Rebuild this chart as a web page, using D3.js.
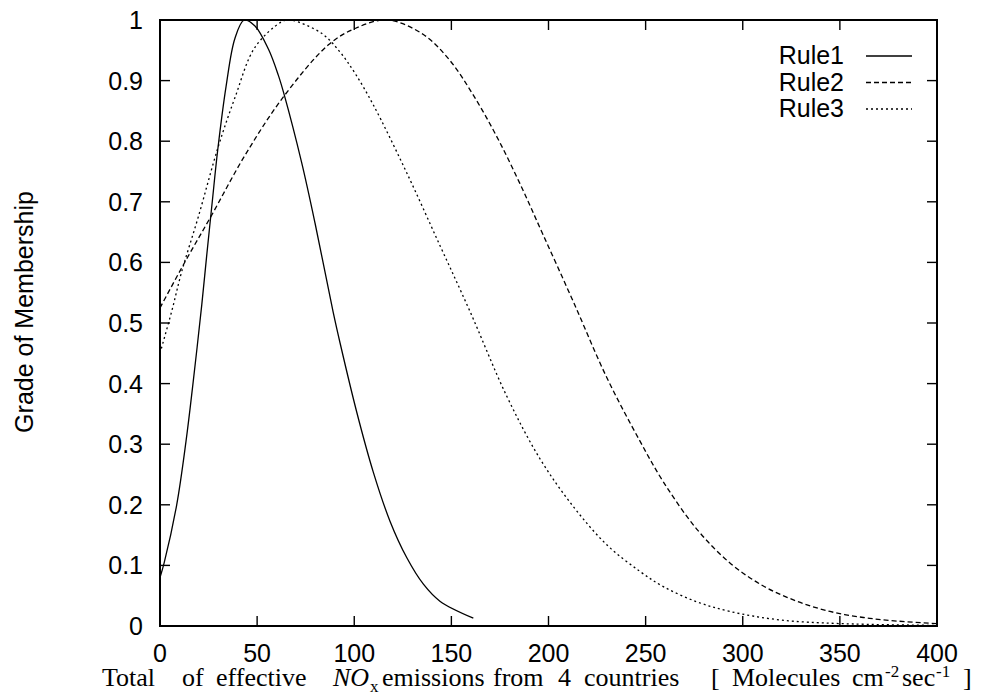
<!DOCTYPE html>
<html>
<head>
<meta charset="utf-8">
<script src="https://cdn.jsdelivr.net/npm/d3@7"></script>
<style>
    body { margin: 0; background: #fff; }
    svg { display: block; }
    .tick-label { font-family: "Liberation Sans", Arial, Helvetica, sans-serif; font-size: 25px; fill: #000; }
    .x-title { font-family: "Liberation Serif", "Times New Roman", serif; font-size: 26px; fill: #000; }
</style>
</head>
<body>
<script>
// values
var xTicks = [0, 50, 100, 150, 200, 250, 300, 350, 400];
var yTicks = [0, 0.1, 0.2, 0.3, 0.4, 0.5, 0.6, 0.7, 0.8, 0.9, 1];
var yTickLabels = ['0', '0.1', '0.2', '0.3', '0.4', '0.5', '0.6', '0.7', '0.8', '0.9', '1'];

var seriesNames = ['Rule1', 'Rule2', 'Rule3'];

var rule1X = [0, 2.2, 8.6, 13.4, 16.8, 21.5, 24, 26.9, 29.7, 34, 38.6, 43.4, 48.9, 55.8, 60.9, 64,
    72.9, 79.8, 89.2, 92.7, 101.2, 109.8, 118.4, 127, 135.6, 144.1, 161.3];
var rule1Y = [0.08, 0.105, 0.2, 0.305, 0.395, 0.53, 0.61, 0.7, 0.785, 0.89, 0.97, 1, 0.99, 0.952, 0.909, 0.876,
    0.765, 0.665, 0.517, 0.467, 0.354, 0.254, 0.173, 0.113, 0.069, 0.041, 0.013];

var rule2X = [0, 12.9, 26.6, 43.8, 63.5, 86.7, 100.4, 117, 135.6, 149.3, 161.3, 173.3, 185.3, 197.3,
    212.8, 230, 247.1, 259.1, 276.3, 293.4, 310.6, 327.8, 344.9, 362.1, 380, 400];
var rule2Y = [0.525, 0.601, 0.678, 0.777, 0.873, 0.959, 0.986, 1, 0.976, 0.933, 0.876, 0.808, 0.73, 0.645,
    0.535, 0.41, 0.305, 0.238, 0.16, 0.104, 0.066, 0.041, 0.024, 0.014, 0.008, 0.004];

var rule3X = [0, 6, 11.2, 19.7, 29.9, 38.6, 48.9, 62.6, 67, 83.2, 92.7, 100.4, 109.8, 127, 144.1, 159.6,
    178.4, 195.6, 212.8, 230, 247.1, 259.1, 276.3, 293.4, 319.2, 350, 400];
var rule3Y = [0.45, 0.519, 0.585, 0.675, 0.79, 0.872, 0.955, 0.997, 1, 0.978, 0.947, 0.912, 0.86, 0.748,
    0.628, 0.519, 0.38, 0.276, 0.197, 0.134, 0.09, 0.065, 0.04, 0.024, 0.01, 0.004, 0.001];


var width = 989,
    height = 697,
    margin = { left: 160, right: 52, top: 20, bottom: 71 };

var svg = d3.select('body')
    .append('svg')
    .attr('width', width)
    .attr('height', height);

var x = d3.scaleLinear()
    .domain([0, 400])
    .range([margin.left, width - margin.right]);

var y = d3.scaleLinear()
    .domain([0, 1])
    .range([height - margin.bottom, margin.top]);

var x0 = x.range()[0], x1 = x.range()[1],
    y0 = y.range()[0], y1 = y.range()[1],
    tickLen = 10;

svg.append('clipPath')
    .attr('id', 'plot-clip')
    .append('rect')
    .attr('x', x0)
    .attr('y', y1)
    .attr('width', x1 - x0)
    .attr('height', y0 - y1);


// mirrored inward ticks, gnuplot style
var ticks = svg.append('g')
    .attr('stroke', '#000')
    .attr('stroke-width', 1.4);

xTicks.forEach(function(v) {
    ticks.append('line')
        .attr('x1', x(v)).attr('x2', x(v))
        .attr('y1', y0).attr('y2', y0 - tickLen);
    ticks.append('line')
        .attr('x1', x(v)).attr('x2', x(v))
        .attr('y1', y1).attr('y2', y1 + tickLen);
});

yTicks.forEach(function(v) {
    ticks.append('line')
        .attr('x1', x0).attr('x2', x0 + tickLen)
        .attr('y1', y(v)).attr('y2', y(v));
    ticks.append('line')
        .attr('x1', x1).attr('x2', x1 - tickLen)
        .attr('y1', y(v)).attr('y2', y(v));
});


// tick labels
svg.append('g').selectAll('text')
    .data(xTicks)
    .enter()
    .append('text')
    .attr('class', 'tick-label')
    .attr('x', function(d) { return x(d); })
    .attr('y', y0 + 36)
    .attr('text-anchor', 'middle')
    .text(function(d) { return d; });

svg.append('g').selectAll('text')
    .data(yTicks)
    .enter()
    .append('text')
    .attr('class', 'tick-label')
    .attr('x', x0 - 17)
    .attr('y', function(d) { return y(d) + 9; })
    .attr('text-anchor', 'end')
    .text(function(d, i) { return yTickLabels[i]; });


// curves
var series = [
    { name: seriesNames[0], xs: rule1X, ys: rule1Y, dash: null },
    { name: seriesNames[1], xs: rule2X, ys: rule2Y, dash: '5,3' },
    { name: seriesNames[2], xs: rule3X, ys: rule3Y, dash: '2,3' }
];

var line = d3.line()
    .x(function(d) { return x(d[0]); })
    .y(function(d) { return y(d[1]); })
    .curve(d3.curveCatmullRom.alpha(0.5));

svg.append('g')
    .attr('clip-path', 'url(#plot-clip)')
    .selectAll('path')
    .data(series)
    .enter()
    .append('path')
    .attr('fill', 'none')
    .attr('stroke', '#000')
    .attr('stroke-width', 1.3)
    .attr('stroke-dasharray', function(d) { return d.dash; })
    .attr('d', function(d) { return line(d3.zip(d.xs, d.ys)); });


// frame
svg.append('rect')
    .attr('x', x0)
    .attr('y', y1)
    .attr('width', x1 - x0)
    .attr('height', y0 - y1)
    .attr('fill', 'none')
    .attr('stroke', '#000')
    .attr('stroke-width', 2);


// legend
var legend = svg.append('g').selectAll('g')
    .data(series)
    .enter()
    .append('g')
    .attr('transform', function(d, i) { return 'translate(0,' + (64 + i * 26.5) + ')'; });

legend.append('text')
    .attr('class', 'tick-label')
    .attr('x', 844)
    .attr('text-anchor', 'end')
    .text(function(d) { return d.name; });

legend.append('line')
    .attr('x1', 866).attr('x2', 912)
    .attr('y1', -8).attr('y2', -8)
    .attr('stroke', '#000')
    .attr('stroke-width', 1.3)
    .attr('stroke-dasharray', function(d) { return d.dash; });


// axis titles
svg.append('text')
    .attr('class', 'tick-label')
    .attr('transform', 'translate(33,312) rotate(-90)')
    .attr('text-anchor', 'middle')
    .text('Grade of Membership');

// x title is set word by word, like the reference's loose spacing
var pieces = [
    { t: 'Total', x: 102 },
    { t: 'of', x: 182 },
    { t: 'effective', x: 216 },
    { t: 'NO', x: 333, italic: true },
    { t: 'x', x: 370, sub: true },
    { t: 'emissions', x: 382 },
    { t: 'from', x: 493 },
    { t: '4', x: 558 },
    { t: 'countries', x: 584 },
    { t: '[', x: 711 },
    { t: 'Molecules', x: 732 },
    { t: 'cm', x: 852 },
    { t: '-2', x: 885, sup: true },
    { t: 'sec', x: 902 },
    { t: '-1', x: 936, sup: true },
    { t: ']', x: 963 }
];

var xTitle = svg.append('g')
    .attr('class', 'x-title');

pieces.forEach(function(p) {
    var t = xTitle.append('text')
        .attr('x', p.x)
        .attr('y', p.sub ? 692 : (p.sup ? 677 : 686))
        .text(p.t);
    if (p.italic) t.style('font-style', 'italic');
    if (p.sub || p.sup) t.style('font-size', '17px');
});
</script>
</body>
</html>
